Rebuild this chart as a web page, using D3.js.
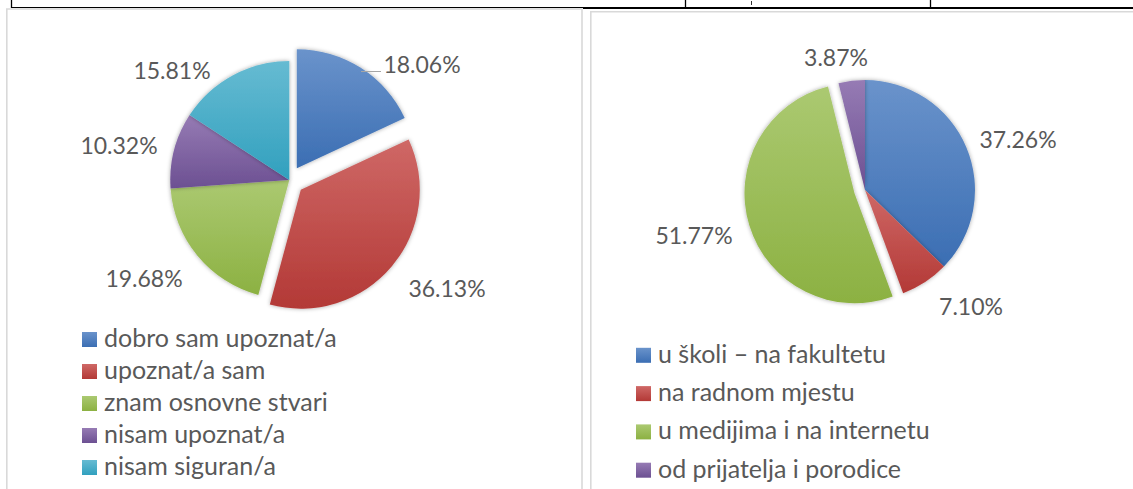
<!DOCTYPE html>
<html><head><meta charset="utf-8">
<script src="https://cdn.jsdelivr.net/npm/d3@7"></script>
<style>
html,body{margin:0;padding:0;background:#fff;}
svg{display:block;}
text{font-family:Lato,"Noto Sans",sans-serif;fill:#595959;}
</style></head>
<body>
<svg id="c" width="1133" height="489"></svg>
<script>
// ---- data ----
const leftCategories = ["dobro sam upoznat/a","upoznat/a sam","znam osnovne stvari","nisam upoznat/a","nisam siguran/a"];
const leftValues = [18.06, 36.13, 19.68, 10.32, 15.81];
const leftExploded = [true, true, false, false, false];

const rightCategories = ["u školi – na fakultetu","na radnom mjestu","u medijima i na internetu","od prijatelja i porodice"];
const rightValues = [37.26, 7.10, 51.77, 3.87];
const rightExploded = [false, false, true, false];

// ---- styles ----
const palette = [
  {top:"#6a93cb", bot:"#3b6eb3"},
  {top:"#cf6866", bot:"#b33936"},
  {top:"#abc971", bot:"#8cb142"},
  {top:"#967bb4", bot:"#6c5092"},
  {top:"#66bbd2", bot:"#31a0be"}
];

const svg = d3.select("#c");
const defs = svg.append("defs");
palette.forEach((p,i)=>{
  const g = defs.append("linearGradient").attr("id","g"+i)
    .attr("x1",0).attr("y1",0).attr("x2",0).attr("y2",1);
  g.append("stop").attr("offset","0%").attr("stop-color",p.top);
  g.append("stop").attr("offset","100%").attr("stop-color",p.bot);
});
const f = defs.append("filter").attr("id","sh").attr("x","-20%").attr("y","-20%").attr("width","140%").attr("height","140%");
f.append("feDropShadow").attr("dx",0).attr("dy",0).attr("stdDeviation",2.2)
  .attr("flood-color","#000").attr("flood-opacity",0.35);

// ---- document frame (table lines + chart borders) ----
svg.append("line").attr("x1",11.5).attr("y1",0).attr("x2",11.5).attr("y2",8).attr("stroke","#000").attr("stroke-width",1.3);
svg.append("line").attr("x1",11).attr("y1",7.5).attr("x2",584).attr("y2",7.5).attr("stroke","#000").attr("stroke-width",1.2);
svg.append("line").attr("x1",583).attr("y1",8).attr("x2",1133).attr("y2",8).attr("stroke","#000").attr("stroke-width",2.2);
svg.append("line").attr("x1",685.5).attr("y1",0).attr("x2",685.5).attr("y2",8).attr("stroke","#000").attr("stroke-width",1.3);
svg.append("line").attr("x1",930.5).attr("y1",0).attr("x2",930.5).attr("y2",8).attr("stroke","#000").attr("stroke-width",1.3);
svg.append("line").attr("x1",751.5).attr("y1",1).attr("x2",751.5).attr("y2",5).attr("stroke","#333").attr("stroke-width",1);

svg.append("path").attr("d","M6.8,489 V9 H582 V489").attr("fill","none").attr("stroke","#d9d9d9").attr("stroke-width",1.6);
svg.append("path").attr("d","M590.8,489 V11.8 H1133").attr("fill","none").attr("stroke","#d9d9d9").attr("stroke-width",1.6);

// ---- pie drawing ----
function drawPie(cfg){
  const pie = d3.pie().sort(null).value(d=>d);
  const arcs = pie(cfg.values);
  const arc = d3.arc().innerRadius(0).outerRadius(cfg.r);
  const g = svg.append("g").attr("transform",`translate(${cfg.cx},${cfg.cy})`);
  g.selectAll("path").data(arcs).join("path")
    .attr("transform",(d,i)=>{
      if(!cfg.exploded[i]) return null;
      const a=(d.startAngle+d.endAngle)/2;
      return `translate(${Math.sin(a)*cfg.explode[i]},${-Math.cos(a)*cfg.explode[i]})`;
    })
    .attr("d",arc)
    .attr("fill",(d,i)=>`url(#g${i})`)
    .attr("filter","url(#sh)");
  // labels
  const fmt = v=>v.toFixed(2)+"%";
  arcs.forEach((d,i)=>{
    const p = cfg.labelPos[i];
    svg.append("text").attr("x",p[0]).attr("y",p[1]).attr("dy","0.36em")
      .attr("text-anchor","middle").attr("font-size",cfg.fsLabel).text(fmt(d.data));
  });
  // legend
  const lg = svg.append("g");
  cfg.categories.forEach((c,i)=>{
    const y = cfg.legY + i*cfg.legStep;
    lg.append("rect").attr("x",cfg.legX).attr("y",y-7.5).attr("width",15).attr("height",15).attr("fill",`url(#g${i})`);
    lg.append("text").attr("x",cfg.legX+22).attr("y",y+7.5).attr("font-size",cfg.fsLegend).text(c);
  });
  return {g, arcs, arc};
}

drawPie({
  cx:289.3, cy:180, r:119, values:leftValues, exploded:leftExploded, explode:[14,15,0,0,0],
  categories:leftCategories,
  labelPos:[[422,64.5],[447,289],[144,279],[119,146],[172,71]],
  legX:82, legY:339.5, legStep:32, fsLabel:23, fsLegend:25
});
// leader line for first label
svg.append("line").attr("x1",361).attr("y1",71.5).attr("x2",381).attr("y2",71.5)
  .attr("stroke","#a6a6a6").attr("stroke-width",1);

drawPie({
  cx:865, cy:190, r:110, values:rightValues, exploded:rightExploded, explode:[0,0,11,0],
  categories:rightCategories,
  labelPos:[[1018,140],[971,307],[694,236],[836,58]],
  legX:636, legY:355.3, legStep:38.3, fsLabel:23, fsLegend:25
});
</script>
</body></html>
